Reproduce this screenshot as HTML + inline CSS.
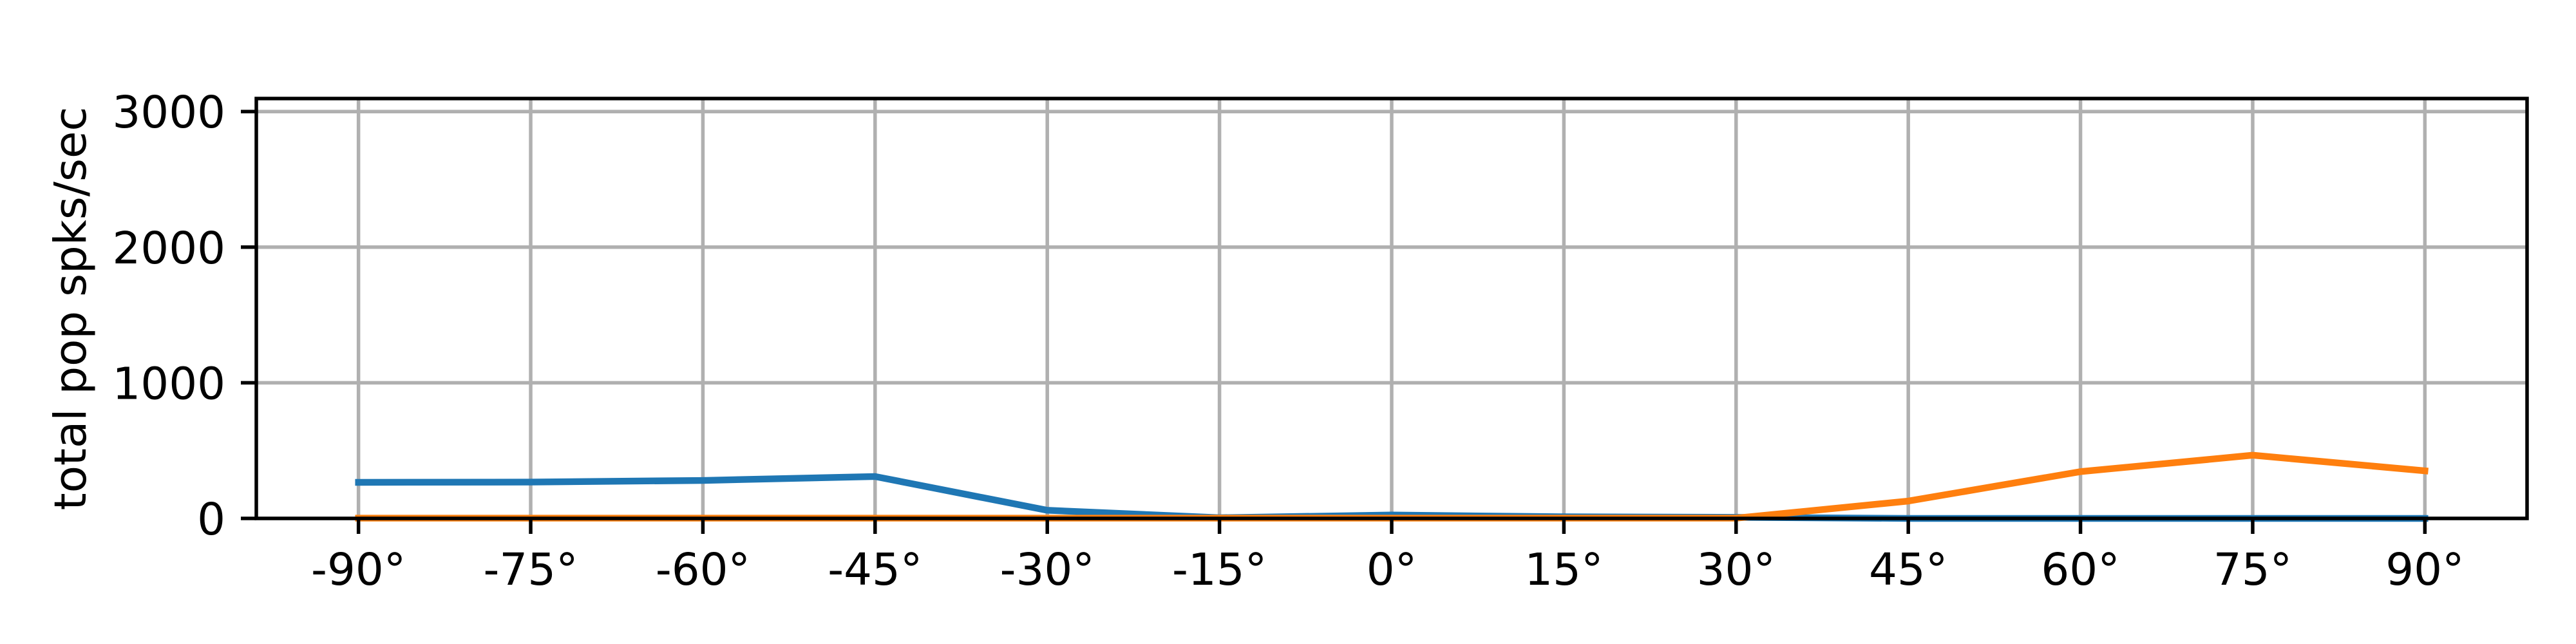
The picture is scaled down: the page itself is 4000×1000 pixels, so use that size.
<!DOCTYPE html>
<html><head><meta charset="utf-8"><style>
html,body{margin:0;padding:0;background:#fff;}
svg{display:block;font-family:"DejaVu Sans","Liberation Sans",sans-serif;}
</style></head><body>
<svg id="chart" width="4000" height="1000" viewBox="0 0 4000 1000" xmlns="http://www.w3.org/2000/svg">
<rect x="0" y="0" width="4000" height="1000" fill="#fff"/>
<g id="grid"></g>
<g id="series"></g>
<g id="axes"></g>
<text x="0" y="0" transform="translate(133,479) rotate(-90)" text-anchor="middle" font-size="69" fill="#000">total pop spks/sec</text>
</svg>
<script>
const categories = [-90,-75,-60,-45,-30,-15,0,15,30,45,60,75,90];
const xTickLabels = ["-90°","-75°","-60°","-45°","-30°","-15°","0°","15°","30°","45°","60°","75°","90°"];
const blueValues = [266,268,280,309,60,5,25,12,8,0,0,0,0];
const orangeValues = [2,2,2,2,2,2,2,2,2,128,345,466,351];
const yTicks = [0,1000,2000,3000];
const yTickLabels = ["0","1000","2000","3000"];

const L=398,R=3924,T=153,B=805;
const xMin=-98.9,xMax=98.9,yMin=0,yMax=3096;
function xs(v){return L+(v-xMin)/(xMax-xMin)*(R-L);}
function ys(v){return B-(v-yMin)/(yMax-yMin)*(B-T);}
const NS="http://www.w3.org/2000/svg";
function mk(tag,attrs,parent){const e=document.createElementNS(NS,tag);for(const k in attrs)e.setAttribute(k,attrs[k]);parent.appendChild(e);return e;}
const grid=document.getElementById('grid'),series=document.getElementById('series'),axes=document.getElementById('axes');

categories.forEach((c,i)=>{
  const x=xs(c);
  const g=mk('line',{x1:x,x2:x,y1:T,y2:B,stroke:'#b0b0b0','stroke-width':5.5},grid);
  
  
  const t=mk('line',{x1:x,x2:x,y1:B,y2:B+24,stroke:'#000','stroke-width':5.5},axes);
  
  
  const lb=mk('text',{x:x,y:B+103,'text-anchor':'middle','font-size':69,fill:'#000'},axes);
  lb.textContent=xTickLabels[i];
  
  
});
yTicks.forEach((v,i)=>{
  const y=ys(v);
  const g=mk('line',{x1:L,x2:R,y1:y,y2:y,stroke:'#b0b0b0','stroke-width':5.5},grid);
  
  
  const t=mk('line',{x1:L-24,x2:L,y1:y,y2:y,stroke:'#000','stroke-width':5.5},axes);
  
  
  const lb=mk('text',{x:L-48,y:y+25,'text-anchor':'end','font-size':69,fill:'#000'},axes);
  lb.textContent=yTickLabels[i];
  
  
});
function line(vals,color,name){
  const pts=categories.map((c,i)=>xs(c)+','+ys(vals[i])).join(' ');
  const p=mk('polyline',{points:pts,fill:'none',stroke:color,'stroke-width':10.4,'stroke-linejoin':'round','stroke-linecap':'square'},series);
  
  
}
line(blueValues,'#1f77b4','series-blue-line');
line(orangeValues,'#ff7f0e','series-orange-line');
const frame=mk('rect',{x:L,y:T,width:R-L,height:B-T,fill:'none',stroke:'#000','stroke-width':5.5},axes);


</script>
</body></html>
